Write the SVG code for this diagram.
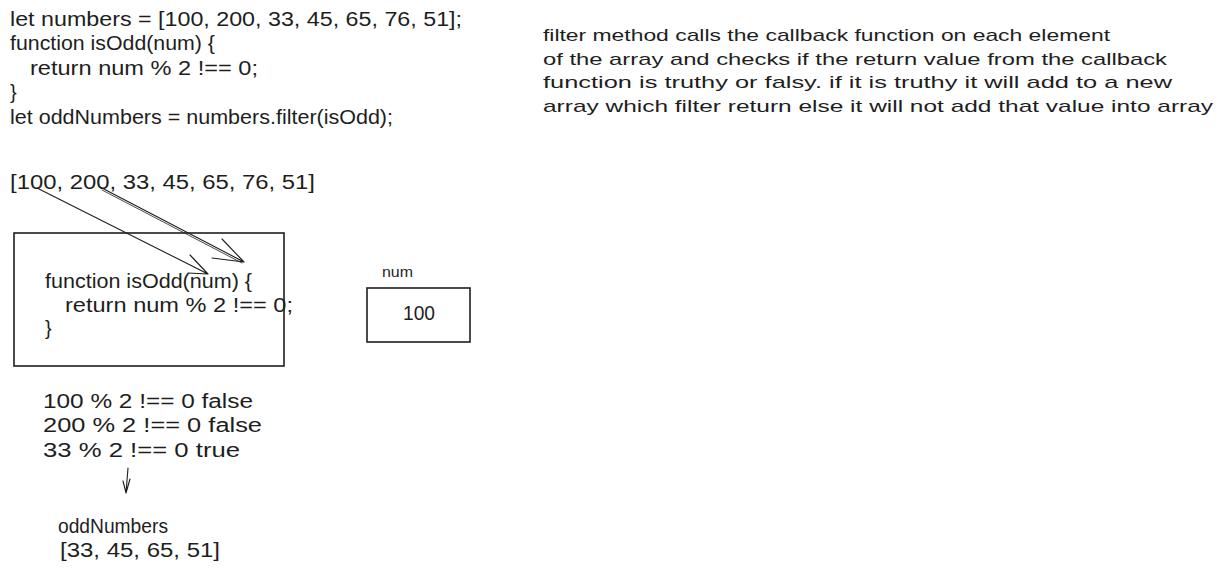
<svg xmlns="http://www.w3.org/2000/svg" width="1224" height="578" viewBox="0 0 1224 578">
<style>
text{font-family:"Liberation Sans","DejaVu Sans",sans-serif;fill:#1e1e1e;}
.c{font-size:20px;}
.d{font-size:17px;}
.s{font-size:14px;}
.box{fill:none;stroke:#1e1e1e;stroke-width:1.6;}
.ln{fill:none;stroke:#1e1e1e;stroke-width:1.1;stroke-linecap:round;stroke-linejoin:round;}
.ln2{fill:none;stroke:#1e1e1e;stroke-width:0.8;stroke-linecap:round;}
</style>
<rect x="0" y="0" width="1224" height="578" fill="#ffffff"/>
<g id="code">
<text class="c" x="10" y="26" textLength="452" lengthAdjust="spacingAndGlyphs">let numbers = [100, 200, 33, 45, 65, 76, 51];</text>
<text class="c" x="10" y="50" textLength="205" lengthAdjust="spacingAndGlyphs">function isOdd(num) {</text>
<text class="c" x="30" y="75" textLength="228" lengthAdjust="spacingAndGlyphs">return num % 2 !== 0;</text>
<text class="c" x="10" y="99">}</text>
<text class="c" x="10" y="124" textLength="383" lengthAdjust="spacingAndGlyphs">let oddNumbers = numbers.filter(isOdd);</text>
</g>
<g id="description">
<text class="d" x="543" y="41" textLength="567" lengthAdjust="spacingAndGlyphs">filter method calls the callback function on each element</text>
<text class="d" x="543" y="65" textLength="624" lengthAdjust="spacingAndGlyphs">of the array and checks if the return value from the callback</text>
<text class="d" x="543" y="88" textLength="629" lengthAdjust="spacingAndGlyphs">function is truthy or falsy. if it is truthy it will add to a new</text>
<text class="d" x="543" y="112" textLength="670" lengthAdjust="spacingAndGlyphs">array which filter return else it will not add that value into array</text>
</g>
<g id="array">
<text class="c" x="10" y="189" textLength="305" lengthAdjust="spacingAndGlyphs">[100, 200, 33, 45, 65, 76, 51]</text>
</g>
<g id="isodd-box">
<rect class="box" x="14" y="233" width="270" height="133"/>
<text class="c" x="45" y="288" textLength="207" lengthAdjust="spacingAndGlyphs">function isOdd(num) {</text>
<text class="c" x="65" y="312" textLength="228" lengthAdjust="spacingAndGlyphs">return num % 2 !== 0;</text>
<text class="c" x="45" y="335">}</text>
</g>
<g id="num-box">
<text class="s" x="382" y="277" textLength="31" lengthAdjust="spacingAndGlyphs">num</text>
<rect class="box" x="367" y="288" width="103" height="54"/>
<text class="c" x="403" y="320" textLength="32" lengthAdjust="spacingAndGlyphs">100</text>
</g>
<g id="results">
<text class="c" x="43" y="408" textLength="210" lengthAdjust="spacingAndGlyphs">100 % 2 !== 0 false</text>
<text class="c" x="43" y="432" textLength="219" lengthAdjust="spacingAndGlyphs">200 % 2 !== 0 false</text>
<text class="c" x="43" y="457" textLength="197" lengthAdjust="spacingAndGlyphs">33 % 2 !== 0 true</text>
</g>
<g id="oddnumbers">
<text class="c" x="58" y="533" textLength="110" lengthAdjust="spacingAndGlyphs">oddNumbers</text>
<text class="c" x="60" y="557" textLength="160" lengthAdjust="spacingAndGlyphs">[33, 45, 65, 51]</text>
</g>
<g id="connectors">
<path class="ln" d="M37 188 L208 274 M190 255 L208 274 L188 273"/>
<path class="ln" d="M100 187 L244 262 M222 239 L244 262 L212 258"/>
<path class="ln2" d="M102 190 L242 263"/>
<path class="ln" d="M128 468 L126 493 M123 481 L126 493 L130 479"/>
</g>
</svg>
